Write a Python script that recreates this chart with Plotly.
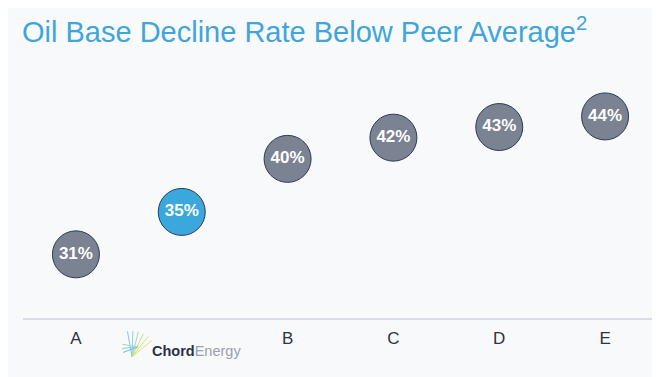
import math
import plotly.graph_objects as go

categories = ["A", "Chord", "B", "C", "D", "E"]
tick_cats = ["A", "B", "C", "D", "E"]
tick_labels = ["A", "B", "C", "D", "E"]
values = [31, 35, 40, 42, 43, 44]
highlight = "Chord"

grey = "#7b8292"
blue = "#3aa7dd"
colors = [blue if c == highlight else grey for c in categories]

W, H = 660, 377
ML, MR, MT, MB = 15, 10, 66, 67
PW, PH = W - ML - MR, H - MT - MB

fig = go.Figure()
fig.add_trace(go.Scatter(
    x=categories, y=values, mode="markers+text",
    marker=dict(size=47, color=colors, line=dict(color="#2b3a55", width=1)),
    text=[f"{v}%" for v in values], textposition="middle center",
    textfont=dict(color="white", size=17, family="Liberation Sans, Arial", weight="bold"),
    hoverinfo="skip", showlegend=False, cliponaxis=False,
))

fig.update_layout(
    width=W, height=H,
    margin=dict(l=ML, r=MR, t=MT, b=MB),
    paper_bgcolor="#f8f9fb", plot_bgcolor="#f8f9fb",
    title=dict(text="Oil Base Decline Rate Below Peer Average<sup>2</sup>",
               x=14 / W, xanchor="left", y=1 - 24 / H, yanchor="middle",
               font=dict(size=29, color="#3fa5da", family="Liberation Sans, Arial")),
    xaxis=dict(type="category", categoryorder="array", categoryarray=categories,
               range=[-0.5, 5.5], tickvals=tick_cats, ticktext=tick_labels,
               showgrid=False, zeroline=False, showline=True, linecolor="#d9dce2", linewidth=1.5,
               ticks="", ticklabelstandoff=4,
               tickfont=dict(size=17, color="#2f3340", family="Liberation Sans, Arial")),
    yaxis=dict(range=[25, 48], visible=False),
)

# Chord Energy logo-style label
fig.add_annotation(x="Chord", y=0, yref="paper", yanchor="top", xshift=15, yshift=-23,
                   text="<b>Chord</b><span style='color:#9aa0aa'>Energy</span>",
                   showarrow=False, font=dict(size=14.5, color="#2b3145", family="Liberation Sans, Arial"))


def px(x, y):
    return (x - ML) / PW, (H - MB - y) / PH


# fan glyph (fig pixel coords)
cx, cy = 124, 349
glyph_colors = ["#7fc8e8", "#8fd0d8", "#a8d8b8", "#c2df90", "#d4e56a", "#e0ea60"]
for i, col in enumerate(glyph_colors):
    ang = math.radians(100 - i * 12)
    x0, y0 = px(cx, cy)
    x1, y1 = px(cx + 26 * math.cos(ang), cy - 26 * math.sin(ang))
    fig.add_shape(type="line", xref="paper", yref="paper", x0=x0, y0=y0, x1=x1, y1=y1,
                  line=dict(color=col, width=1))
for i, col in enumerate(["#6fc0e6", "#8ccbe0", "#a6d6c8"]):
    ang = math.radians(200 - i * 15)
    x0, y0 = px(cx + 6, cy - 10)
    x1, y1 = px(cx + 6 + 16 * math.cos(ang), cy - 10 - 16 * math.sin(ang))
    fig.add_shape(type="line", xref="paper", yref="paper", x0=x0, y0=y0, x1=x1, y1=y1,
                  line=dict(color=col, width=1))

fig.write_html("out.html")
